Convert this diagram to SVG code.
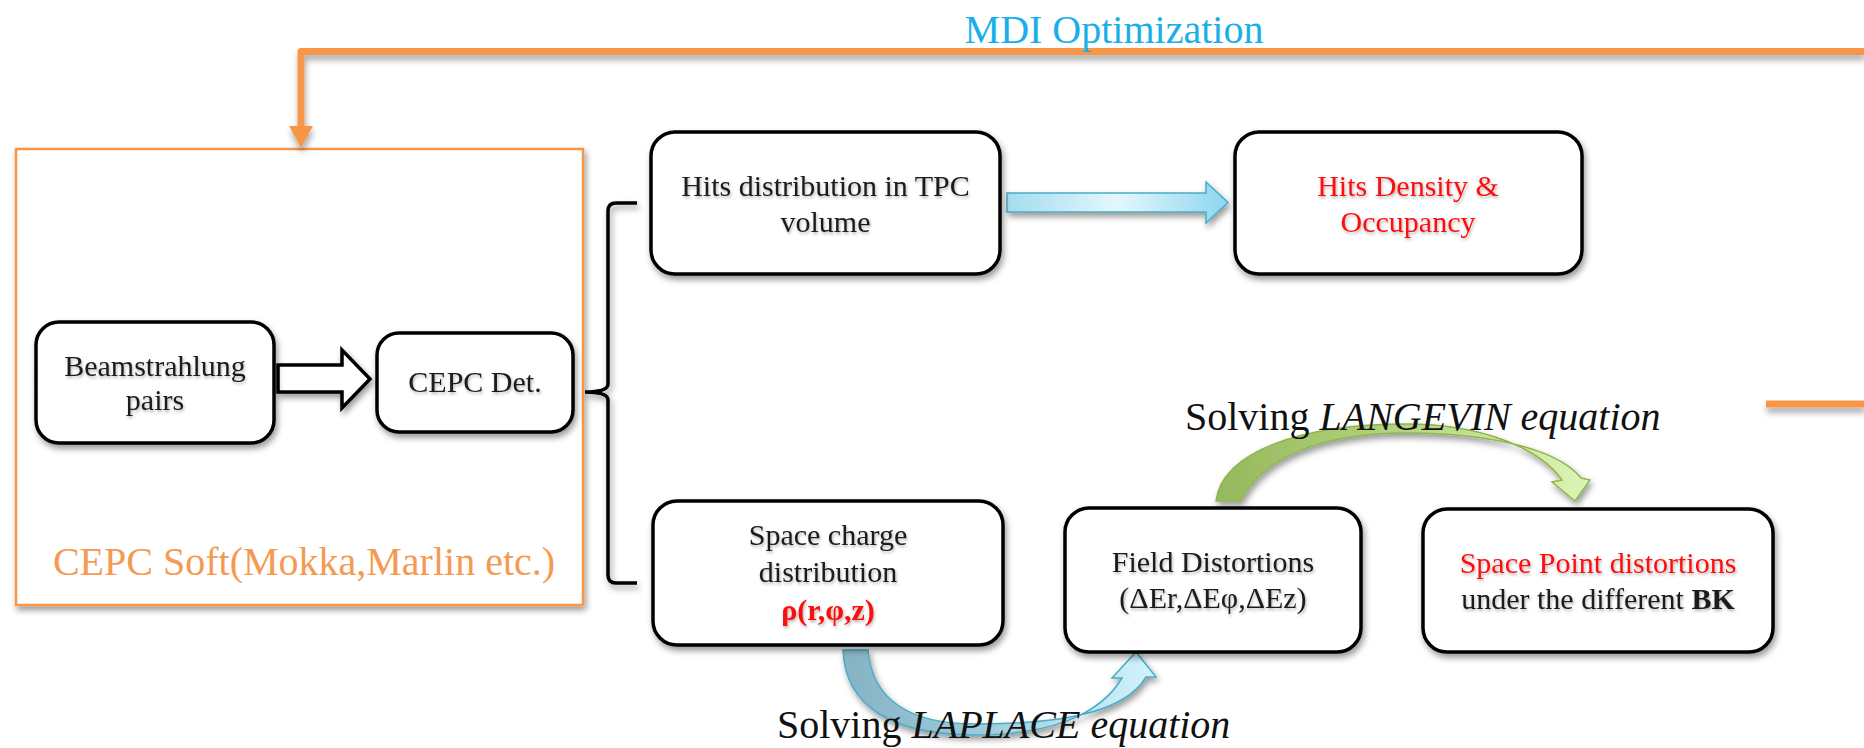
<svg xmlns="http://www.w3.org/2000/svg" width="1864" height="748" viewBox="0 0 1864 748">
<defs>
<filter id="sh" x="-10%" y="-10%" width="130%" height="140%">
<feDropShadow dx="2" dy="4" stdDeviation="3" flood-color="#000" flood-opacity="0.4"/>
</filter>
<filter id="lsh" x="-5%" y="-50%" width="110%" height="300%">
<feDropShadow dx="1" dy="5" stdDeviation="3" flood-color="#000" flood-opacity="0.35"/>
</filter>
<filter id="tsh" x="-10%" y="-30%" width="120%" height="160%">
<feDropShadow dx="1" dy="2" stdDeviation="1.5" flood-color="#000" flood-opacity="0.3"/>
</filter>
<linearGradient id="gBlue" x1="0" y1="0" x2="1" y2="0">
<stop offset="0" stop-color="#A4DCEF"/>
<stop offset="0.5" stop-color="#E4F7FC"/>
<stop offset="1" stop-color="#8DD5EE"/>
</linearGradient>
<linearGradient id="gLap" x1="0" y1="0" x2="1" y2="0">
<stop offset="0" stop-color="#85B2C4"/>
<stop offset="0.45" stop-color="#9FCCDC"/>
<stop offset="1" stop-color="#D2F4FD"/>
</linearGradient>
<linearGradient id="gLan" x1="0" y1="0" x2="1" y2="0">
<stop offset="0" stop-color="#96B85C"/>
<stop offset="0.5" stop-color="#B5D47E"/>
<stop offset="1" stop-color="#DCF5B4"/>
</linearGradient>
<style>
.box{fill:#fff;stroke:#000;stroke-width:3.5}
.t{font-family:"Liberation Serif","Times New Roman",serif;font-size:30px;fill:#1a1a1a;text-anchor:middle}
.red{fill:#FF1010}
.lbl{font-family:"Liberation Serif","Times New Roman",serif;font-size:40px;fill:#111}
.or{fill:none;stroke:#F79646;stroke-width:7}
</style>
</defs>
<rect width="1864" height="748" fill="#fff"/>

<g id="cepc-soft">
  <rect x="16" y="149" width="567" height="456" fill="#fff" stroke="#F79646" stroke-width="2.5" filter="url(#sh)"/>
  <text x="304" y="575" font-family="Liberation Serif, Times New Roman, serif" font-size="40" fill="#F59A52" text-anchor="middle">CEPC Soft(Mokka,Marlin etc.)</text>
</g>

<g id="connectors">
  <g filter="url(#lsh)">
    <path class="or" d="M1864 51.5 H301 V128" stroke-linejoin="round"/>
    <polygon points="289,126 313,126 301,148" fill="#F79646"/>
    <line class="or" x1="1766" y1="404" x2="1864" y2="404"/>
  </g>
  <polygon points="278,365 342,365 342,350 370,379 342,408 342,392 278,392" fill="#fff" stroke="#000" stroke-width="3.5" stroke-linejoin="miter" filter="url(#sh)"/>
  <path d="M637 203 H616 Q608 203 608 211 V384 Q608 392 585 392 Q608 392 608 400 V575 Q608 583 616 583 H637" fill="none" stroke="#000" stroke-width="3.5" filter="url(#sh)"/>
  <polygon points="1007,193 1206,193 1206,182 1228,202.5 1206,223 1206,212 1007,212" fill="url(#gBlue)" stroke="#4BACC6" stroke-width="1.5" filter="url(#sh)"/>
  <path id="langevin-arrow" d="M1216 501 C1222 452 1300 424 1407 424 C1480 424 1540 448 1562 480 L1552 482 L1575 501 L1590 480 L1581 478 C1555 446 1480 433 1407 433 C1320 433 1262 458 1241 501 Z" fill="url(#gLan)" stroke="#8FB551" stroke-width="1.5" filter="url(#sh)"/>
  <path id="laplace-arrow" d="M843 650 C845 708 895 735 975 735 C1050 735 1100 715 1122 678 L1112 678 L1136 652 L1156 677 L1146 677 C1125 713 1060 724 975 724 C910 724 872 700 868 650 Z" fill="url(#gLap)" stroke="#4BACC6" stroke-width="1.5" filter="url(#sh)"/>
</g>

<g id="mdi-label">
  <text x="1114" y="43" font-family="Liberation Serif, Times New Roman, serif" font-size="40" fill="#1AAFE8" text-anchor="middle">MDI Optimization</text>
</g>

<g id="beamstrahlung">
  <rect class="box" x="36" y="322" width="238" height="121" rx="23" filter="url(#sh)"/>
  <text class="t" x="155" y="376" filter="url(#tsh)">Beamstrahlung</text>
  <text class="t" x="155" y="410" filter="url(#tsh)">pairs</text>
</g>

<g id="cepc-det">
  <rect class="box" x="377" y="333" width="196" height="99" rx="22" filter="url(#sh)"/>
  <text class="t" x="475" y="392" filter="url(#tsh)">CEPC Det.</text>
</g>

<g id="hits-dist">
  <rect class="box" x="651" y="132" width="349" height="142" rx="24" filter="url(#sh)"/>
  <text class="t" x="825.5" y="196" filter="url(#tsh)">Hits distribution in TPC</text>
  <text class="t" x="825.5" y="232" filter="url(#tsh)">volume</text>
</g>

<g id="hits-density">
  <rect class="box" x="1235" y="132" width="347" height="142" rx="24" filter="url(#sh)"/>
  <text class="t red" x="1408" y="196" filter="url(#tsh)">Hits Density &amp;</text>
  <text class="t red" x="1408" y="232" filter="url(#tsh)">Occupancy</text>
</g>

<g id="space-charge">
  <rect class="box" x="653" y="501" width="350" height="144" rx="24" filter="url(#sh)"/>
  <text class="t" x="828" y="545" filter="url(#tsh)">Space charge</text>
  <text class="t" x="828" y="582" filter="url(#tsh)">distribution</text>
  <text class="t red" x="828" y="620" font-weight="bold" filter="url(#tsh)">ρ(r,φ,z)</text>
</g>

<g id="field-distortions">
  <rect class="box" x="1065" y="508" width="296" height="144" rx="24" filter="url(#sh)"/>
  <text class="t" x="1213" y="572" filter="url(#tsh)">Field Distortions</text>
  <text class="t" x="1213" y="608" filter="url(#tsh)">(ΔEr,ΔEφ,ΔEz)</text>
</g>

<g id="space-point">
  <rect class="box" x="1423" y="509" width="350" height="143" rx="24" filter="url(#sh)"/>
  <text class="t red" x="1598" y="573" filter="url(#tsh)">Space Point distortions</text>
  <text class="t" x="1598" y="609" filter="url(#tsh)">under the different <tspan font-weight="bold">BK</tspan></text>
</g>

<g id="labels">
  <text class="lbl" x="1185" y="430">Solving <tspan font-style="italic">LANGEVIN equation</tspan></text>
  <text class="lbl" x="777" y="738">Solving <tspan font-style="italic">LAPLACE equation</tspan></text>
</g>
</svg>
